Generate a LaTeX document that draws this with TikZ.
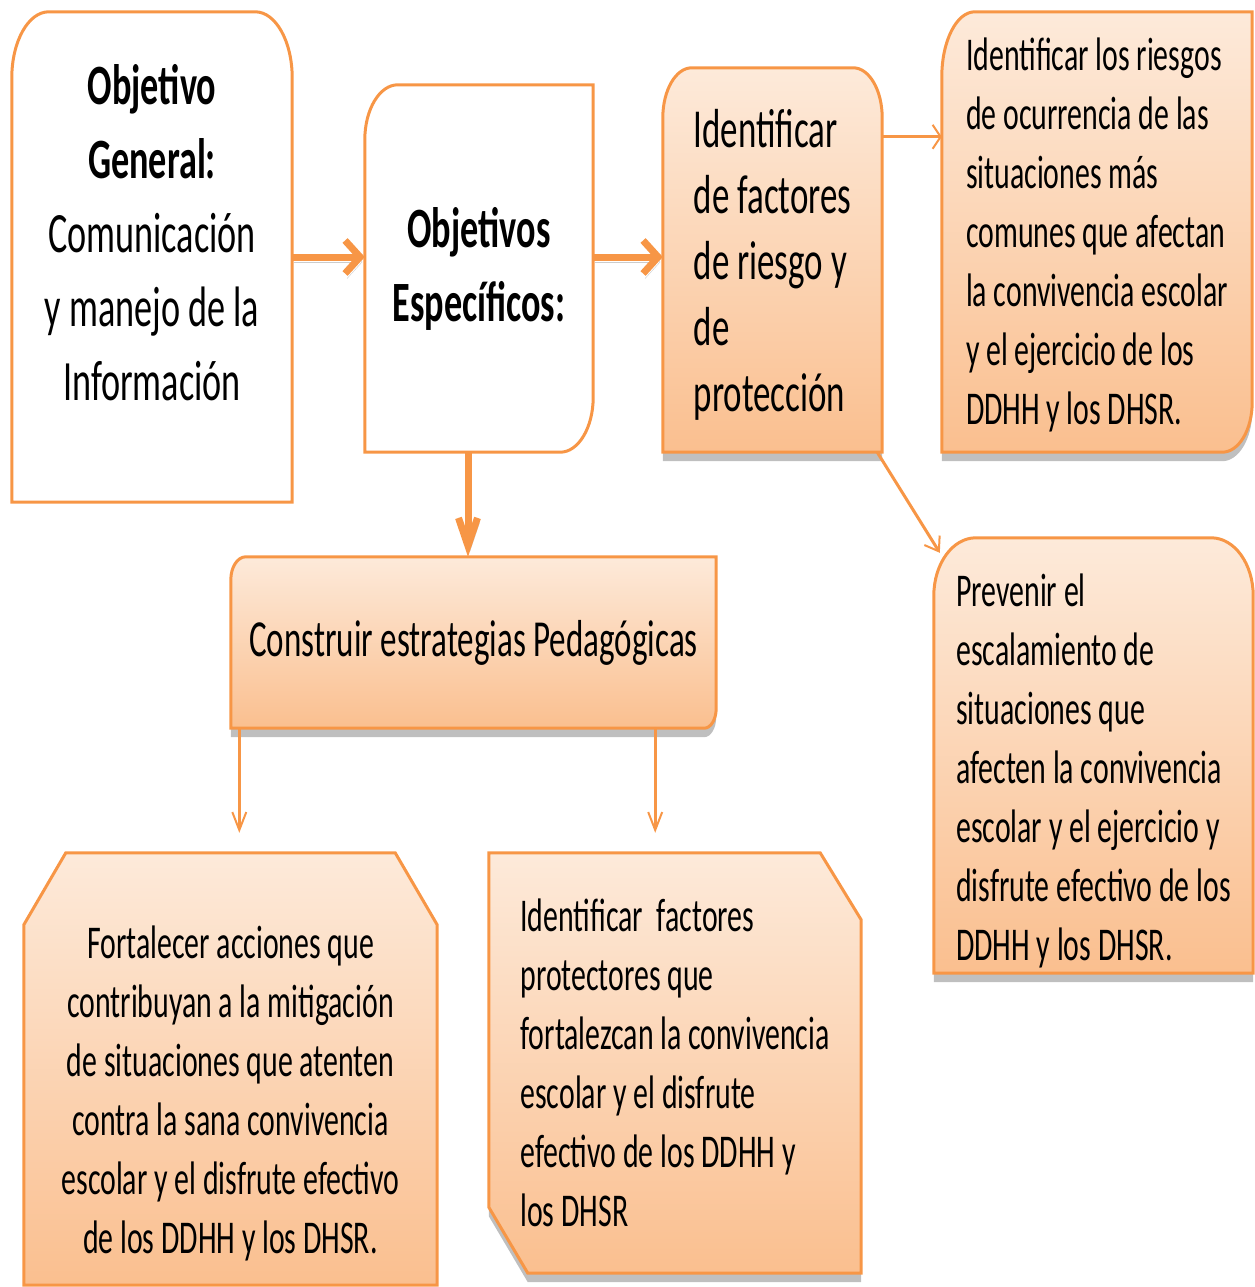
\documentclass[tikz,border=0pt]{standalone}
\usepackage{fontspec}
\setmainfont{Carlito}[FakeStretch=0.635]
\usetikzlibrary{arrows.meta,backgrounds,calc}
\definecolor{accent}{RGB}{247,150,70}
\definecolor{peachtop}{RGB}{253,234,218}
\definecolor{peachbot}{RGB}{250,191,143}
\tikzset{
	box/.style={inner sep=0pt, align=center, text=black},
	lbox/.style={inner sep=0pt, align=left, text=black},
	bigtext/.style={font=\fontsize{57}{74}\selectfont},
	midtext/.style={font=\fontsize{55}{66}\selectfont},
	smalltext/.style={font=\fontsize{47}{59}\selectfont},
	boxline/.style={draw=accent, line width=3pt},
	whitebox/.style={boxline, fill=white},
	peachbox/.style={boxline, top color=peachtop, bottom color=peachbot},
	shadowed/.style={preaction={fill=black!25, transform canvas={yshift=-9pt}}},
	fat/.style={draw=accent, line width=7pt, preaction={draw=black!20, transform canvas={shift={(2pt,-5pt)}}}},
	fatright/.style={fat, -{Straight Barb[length=15pt,width=33pt]}},
	fatdown/.style={fat, -{Straight Barb[length=28pt,width=19pt]}},
	link/.style={draw=accent, line width=3pt},
	linkright/.style={link, -{Straight Barb[length=8pt,width=24pt,line width=2pt]}},
	linkdown/.style={link, -{Straight Barb[length=18pt,width=14pt,line width=2pt]}},
	linkslant/.style={link, -{Straight Barb[length=13pt,width=18pt,line width=2pt]}}
}

\begin{document}
\begin{tikzpicture}[x=1pt, y=-1pt]
		%%%%% START %%%%%
		\useasboundingbox (0,0) rectangle (1254,1287);
		
		\node[box, bigtext, minimum width=280pt, minimum height=490pt, text depth=50pt] (gen) at (152,257)
			{\textbf{Objetivo}\\\textbf{General:}\\Comunicación\\y manejo de la\\Información};
		\node[box, bigtext, minimum width=228pt, minimum height=367pt] (spec) at (479,268.5)
			{\textbf{Objetivos}\\\textbf{Específicos:}};
		\node[lbox, midtext, minimum width=219pt, minimum height=384pt, text depth=0pt] (fac) at (772.5,260)
			{Identificar\\de factores\\de riesgo y\\de\\protección};
		\node[lbox, smalltext, minimum width=310pt, minimum height=440pt, text depth=1pt] (risk) at (1097,232)
			{Identificar los riesgos\\de ocurrencia de las\\situaciones más\\comunes que afectan\\la convivencia escolar\\y el ejercicio de los\\DDHH y los DHSR.};
		\node[lbox, smalltext, minimum width=319pt, minimum height=435pt, text height=409pt, text depth=0pt] (prev) at (1093.5,755.5)
			{Prevenir el\\escalamiento de\\situaciones que\\afecten la convivencia\\escolar y el ejercicio y\\disfrute efectivo de los\\DDHH y los DHSR.};
		\node[box, font=\fontsize{52}{62}\selectfont, minimum width=485pt, minimum height=171pt] (strat) at (473.5,642.5)
			{Construir estrategias Pedagógicas};
		\node[box, smalltext, minimum width=413pt, minimum height=432pt, text height=368pt, text depth=0pt] (fort) at (230.5,1069)
			{Fortalecer acciones que\\contribuyan a la mitigación\\de situaciones que atenten\\contra la sana convivencia\\escolar y el disfrute efectivo\\de los DDHH y los DHSR.};
		\node[lbox, smalltext, minimum width=372pt, minimum height=420pt] (prot) at (675,1063)
			{Identificar~ factores\\protectores que\\fortalezcan la convivencia\\escolar y el disfrute\\efectivo de los DDHH y\\los DHSR};
		
		\begin{scope}[on background layer]
		\path[whitebox] (gen.south west) -- ([yshift=-66pt]gen.north west)
			arc[start angle=180, end angle=270, x radius=37, y radius=66] -- ([xshift=-37pt]gen.north east)
			arc[start angle=270, end angle=360, x radius=37, y radius=66] -- (gen.south east) -- cycle;
		\path[whitebox] (spec.north east) -- ([yshift=55pt]spec.south east)
			arc[start angle=0, end angle=90, x radius=33, y radius=55] -- (spec.south west) -- ([yshift=-55pt]spec.north west)
			arc[start angle=180, end angle=270, x radius=33, y radius=55] -- cycle;
		\path[peachbox, shadowed] (fac.south west) -- ([yshift=-50pt]fac.north west)
			arc[start angle=180, end angle=270, x radius=29, y radius=50] -- ([xshift=-29pt]fac.north east)
			arc[start angle=270, end angle=360, x radius=29, y radius=50] -- (fac.south east) -- cycle;
		\path[peachbox, shadowed] (risk.north east) -- ([yshift=50pt]risk.south east)
			arc[start angle=0, end angle=90, x radius=30, y radius=50] -- (risk.south west) -- ([yshift=-65pt]risk.north west)
			arc[start angle=180, end angle=270, x radius=33, y radius=65] -- cycle;
		\path[peachbox, shadowed] (prev.south west) -- ([yshift=-58pt]prev.north west)
			arc[start angle=180, end angle=270, x radius=42, y radius=58] -- ([xshift=-42pt]prev.north east)
			arc[start angle=270, end angle=360, x radius=42, y radius=58] -- (prev.south east) -- cycle;
		\path[peachbox, shadowed] (strat.north east) -- ([yshift=20pt]strat.south east)
			arc[start angle=0, end angle=90, x radius=12, y radius=20] -- (strat.south west) -- ([yshift=-23pt]strat.north west)
			arc[start angle=180, end angle=270, x radius=15, y radius=23] -- cycle;
		\path[peachbox] (fort.south west) -- ([yshift=-72pt]fort.north west) -- ([xshift=42pt]fort.north west)
			-- ([xshift=-42pt]fort.north east) -- ([yshift=-72pt]fort.north east) -- (fort.south east) -- cycle;
		\path[peachbox, shadowed] (prot.north west) -- ([xshift=-41pt]prot.north east) -- ([yshift=-67pt]prot.north east)
			-- (prot.south east) -- ([xshift=39pt]prot.south west) -- ([yshift=66pt]prot.south west) -- cycle;
		\end{scope}
		
		\draw[fatright] (gen.east) -- (gen.east -| spec.west);
		\draw[fatright] (spec.east |- gen.east) -- (fac.west |- gen.east);
		\draw[fatdown] ([xshift=-11pt]spec.south) -- ([xshift=-11pt]spec.south |- strat.north);
		\draw[linkright] ([yshift=-69pt]fac.north east) -- ([yshift=-69pt]fac.north east -| risk.west);
		\draw[linkslant] ([xshift=-5pt]fac.south east) -- ([shift={(6pt,-15pt)}]prev.north west);
		\draw[linkdown, shorten >=20pt] ([xshift=8.5pt]strat.south west) -- ([xshift=8.5pt]strat.south west |- fort.north);
		\draw[linkdown, shorten >=20pt] ([xshift=-61pt]strat.south east) -- ([xshift=-61pt]strat.south east |- prot.north);
		
		%%%%% END %%%%%
\end{tikzpicture}
\end{document}
